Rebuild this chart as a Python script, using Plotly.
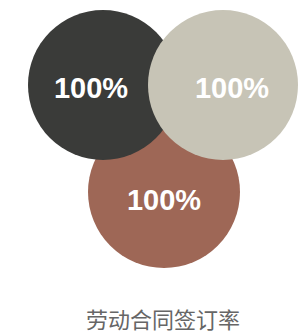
import plotly.graph_objects as go

categories = ["A", "B", "C"]
values = [100, 100, 100]
labels = [f"{v}%" for v in values]
title_text = "劳动合同签订率"

colors = ["#9e6756", "#3a3b39", "#c7c4b6"]
# circle geometry (pixels): cx, cy, r ; label position
circles = [(164, 192, 76, 164, 203), (103, 85, 75, 91, 91), (223, 85, 75, 232, 91)]

fig = go.Figure()
for (cx, cy, r, tx, ty), col in zip(circles, colors):
    fig.add_shape(type="circle", xref="x", yref="y", x0=cx - r, x1=cx + r,
                  y0=cy - r, y1=cy + r, fillcolor=col, line=dict(width=0), layer="below")

fig.add_trace(go.Scatter(
    x=[c[3] for c in circles], y=[c[4] for c in circles], mode="text",
    text=labels, textposition="middle center",
    textfont=dict(family="Liberation Sans", size=29, color="white", weight="bold"),
    hoverinfo="skip", showlegend=False))

fig.add_annotation(x=163, y=318, xref="x", yref="y", text=title_text, showarrow=False,
                   font=dict(family="Noto Sans CJK SC", size=22, color="#666666"))

fig.update_xaxes(range=[0, 306], visible=False, fixedrange=True)
fig.update_yaxes(range=[335, 0], visible=False, fixedrange=True)
fig.update_layout(width=306, height=335, margin=dict(l=0, r=0, t=0, b=0),
                  plot_bgcolor="white", paper_bgcolor="white")
fig.write_html("out.html", config={"displayModeBar": False},
               post_script="document.body.style.margin='0';document.body.style.overflow='hidden';")
